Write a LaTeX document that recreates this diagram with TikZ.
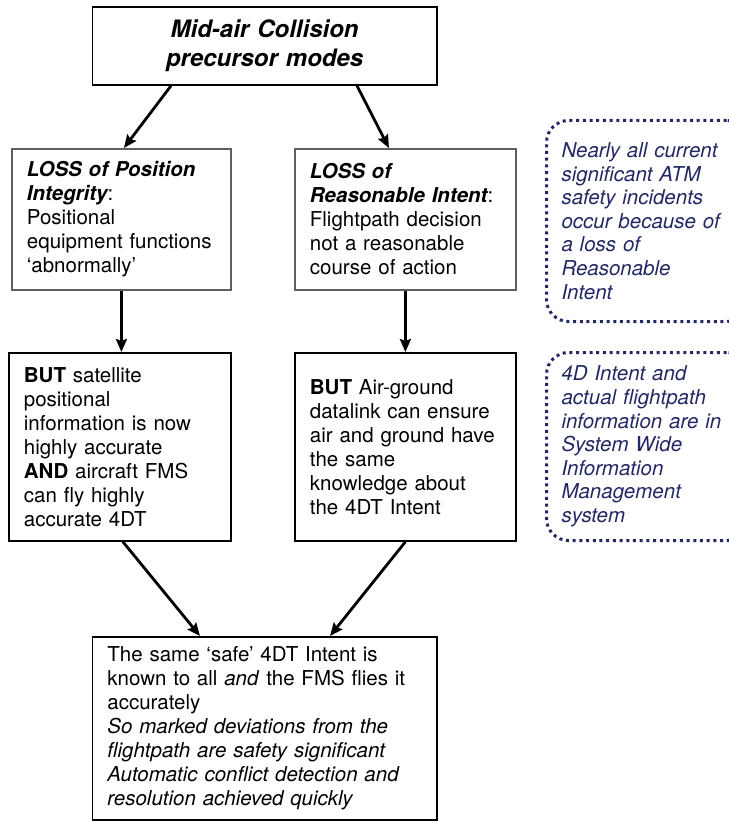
\documentclass[tikz,border=0pt]{standalone}
\usepackage{fontspec}
\setmainfont{TeX Gyre Heros}
\usetikzlibrary{arrows.meta}
\definecolor{navy}{RGB}{35,40,100}
\definecolor{edgegrey}{RGB}{95,95,95}

\begin{document}
\begin{tikzpicture}[x=1pt,y=1pt,
    box/.style={draw,line width=1.8pt,anchor=north west,align=left,inner xsep=15pt,inner ysep=0pt,
        font=\fontsize{20.5}{24}\selectfont},
    note/.style={draw=navy,text=navy,line width=3pt,dash pattern=on 3pt off 3.7pt,rounded corners=22pt,
        anchor=north west,align=left,inner xsep=15pt,inner ysep=0pt,font=\fontsize{20.5}{23.6}\selectfont\itshape},
    link/.style={line width=2.8pt,-{Stealth[length=13pt,width=11pt,inset=2pt]}}]
    \useasboundingbox (0,0) rectangle (728,-821);
    \node[box,align=center,text width=314.5,minimum height=78,font=\fontsize{24}{29}\selectfont\bfseries\itshape]
        (modes) at (91.5,-6) {Mid-air Collision\\precursor modes};

    \node[box,draw=edgegrey,text width=189,minimum height=141] (posloss) at (11,-148)
        {{\bfseries\itshape LOSS of Position\\Integrity}:\\Positional\\equipment functions\\‘abnormally’};
    \node[box,draw=edgegrey,text width=191,minimum height=141] (intloss) at (294,-148)
        {{\bfseries\itshape LOSS of\\Reasonable Intent}:\\Flightpath decision\\not a reasonable\\course of action};

    \node[box,text width=192,minimum height=188] (satfix) at (8,-352)
        {\textbf{BUT} satellite\\positional\\information is now\\highly accurate\\\textbf{AND} aircraft FMS\\can fly highly\\accurate 4DT};
    \node[box,text width=191,minimum height=188] (linkfix) at (294,-352)
        {\textbf{BUT} Air-ground\\datalink can ensure\\air and ground have\\the same\\knowledge about\\the 4DT Intent};

    \node[box,text width=314.5,minimum height=183] (outcome) at (91.5,-636)
        {The same ‘safe’ 4DT Intent is\\known to all \textit{and} the FMS flies it\\accurately\\\textit{So marked deviations from the\\flightpath are safety significant\\Automatic conflict detection and\\resolution achieved quickly}};

    % side notes
    \node[note,text width=172,minimum height=201] (incidents) at (545,-119)
        {Nearly all current\\significant ATM\\safety incidents\\occur because of\\a loss of\\Reasonable\\Intent};
    \node[note,text width=172,minimum height=188] (swim) at (545,-351)
        {4D Intent and\\actual flightpath\\information are in\\System Wide\\Information\\Management\\system};

    \draw[link] ([xshift=79.5pt]modes.south west) -- ([xshift=2.5pt]posloss.north);
    \draw[link] ([xshift=265.5pt]modes.south west) -- ([xshift=-16.5pt]intloss.north);
    \draw[link] (posloss.south) -- (posloss.south |- satfix.north);
    \draw[link] (intloss.south) -- (intloss.south |- linkfix.north);
    \draw[link] ([xshift=3pt]satfix.south) -- ([xshift=108.5pt]outcome.north west);
    \draw[link] (linkfix.south) -- ([xshift=238.5pt]outcome.north west);
\end{tikzpicture}
\end{document}
